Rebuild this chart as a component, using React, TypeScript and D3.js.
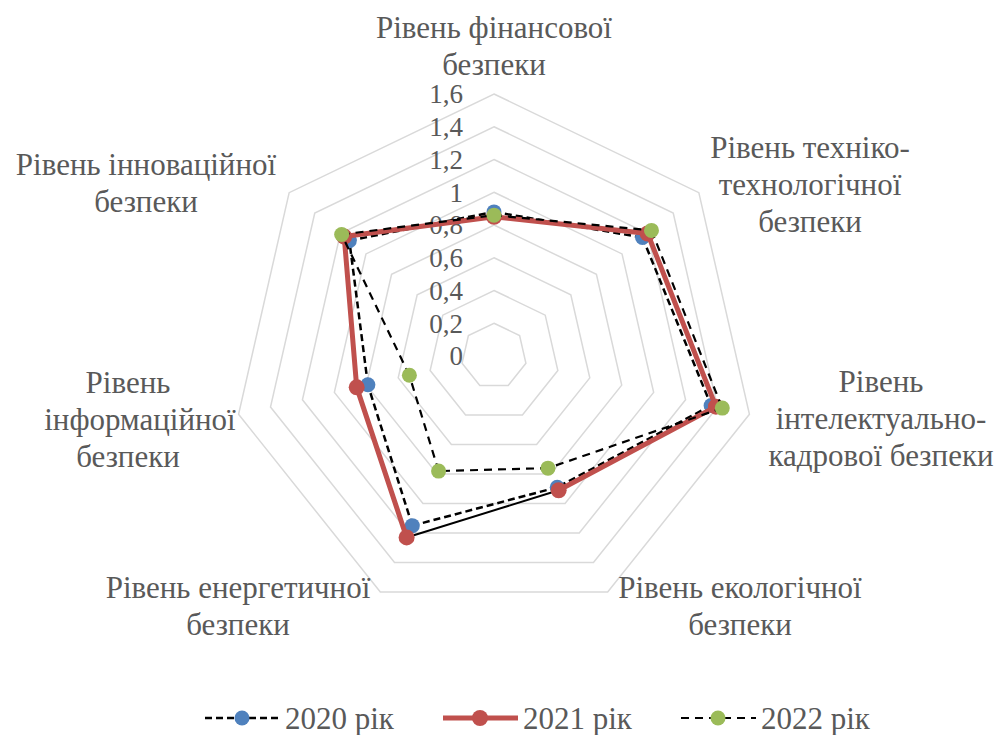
import React from 'react';
import * as d3 from 'd3';

const categories = [
  ['Рівень фінансової', 'безпеки'],
  ['Рівень техніко-', 'технологічної', 'безпеки'],
  ['Рівень', 'інтелектуально-', 'кадрової безпеки'],
  ['Рівень екологічної', 'безпеки'],
  ['Рівень енергетичної', 'безпеки'],
  ['Рівень', 'інформаційної', 'безпеки'],
  ['Рівень інноваційної', 'безпеки'],
];
const ticks = [0, 0.2, 0.4, 0.6, 0.8, 1, 1.2, 1.4, 1.6];
const v2020 = [0.88, 1.16, 1.36, 0.89, 1.15, 0.79, 1.13];
const v2021 = [0.85, 1.2, 1.39, 0.91, 1.23, 0.86, 1.17];
const v2022 = [0.86, 1.23, 1.43, 0.76, 0.78, 0.53, 1.19];
const seriesNames = ['2020 рік', '2021 рік', '2022 рік'];

// label anchors: centre x of each line, first baseline
const labelPos = [
  [[494], 38], [[810], 158], [[881], 392], [[740], 598],
  [[238], 598], [[128, 140, 128], 393], [[146], 175],
];

const W = 998, H = 735;
const cx = 494, cy = 356;
const font = 'Liberation Serif, serif';
const grey = '#595959';

const r = d3.scaleLinear().domain([0, 1.6]).range([0, 262]);
const angle = d3.scaleLinear().domain([0, 7]).range([0, 2 * Math.PI]);
const pt = (i: number, v: number): [number, number] => {
  const a = angle(i);
  return [cx + r(v) * Math.sin(a), cy - r(v) * Math.cos(a)];
};

const styles = [
  { stroke: '#000', width: 2.5, dash: '7,4', fill: '#4f81bd', mr: 7.5 },
  { stroke: '#c0504d', width: 5, dash: null, fill: '#c0504d', mr: 8 },
  { stroke: '#000', width: 2.2, dash: '8,6', fill: '#9bbb59', mr: 7.5 },
];

export default function App() {
  const data = [v2020, v2021, v2022];
  const line = d3.line<[number, number]>();
  const idx = d3.range(7);

  return (
    <svg width={W} height={H} style={{ position: 'absolute', left: 0, top: 0, background: '#fff' }}>
      {ticks.slice(1).map((t) => (
        <path key={t} d={line(idx.map((i) => pt(i, t)))! + 'Z'} fill="none" stroke="#d9d9d9" strokeWidth={1.5} />
      ))}
      {ticks.map((t) => (
        <text key={t} x={463} y={cy - r(t)} dy="0.35em" textAnchor="end" fontFamily={font} fontSize={27} fill={grey}>
          {String(t).replace('.', ',')}
        </text>
      ))}
      {data.map((vals, s) => {
        const st = styles[s];
        const pts = vals.map((v, i) => pt(i, v));
        return (
          <g key={s}>
            {idx.map((i) => {
              const a = pts[i];
              const b = pts[(i + 1) % 7];
              // 2021: the segment into the energy point is thin black in the original
              const special = s === 1 && i === 3;
              return (
                <path
                  key={i}
                  d={line([a, b])!}
                  stroke={special ? '#000' : st.stroke}
                  strokeWidth={special ? 2 : st.width}
                  strokeDasharray={st.dash ?? undefined}
                  strokeLinecap={st.dash ? 'butt' : 'round'}
                  fill="none"
                />
              );
            })}
            {pts.map((p, i) => (
              <circle key={i} cx={p[0]} cy={p[1]} r={st.mr} fill={st.fill} />
            ))}
          </g>
        );
      })}
      {categories.map((lines, i) => {
        const [xs, y0] = labelPos[i] as [number[], number];
        return (
          <text key={i} fontFamily={font} fontSize={31} fill={grey} textAnchor="middle">
            {lines.map((l, j) => (
              <tspan key={j} x={xs[j] ?? xs[0]} y={y0 + j * 37}>
                {l}
              </tspan>
            ))}
          </text>
        );
      })}
      {seriesNames.map((n, s) => {
        const st = styles[s];
        const x0 = 205 + s * 238;
        const y = 718;
        return (
          <g key={n}>
            <line x1={x0} x2={x0 + 75} y1={y} y2={y} stroke={st.stroke} strokeWidth={st.width} strokeDasharray={st.dash ?? undefined} />
            <circle cx={x0 + 37} cy={y} r={st.mr} fill={st.fill} />
            <text x={x0 + 80} y={y} dy="0.35em" fontFamily={font} fontSize={31} fill={grey}>
              {n}
            </text>
          </g>
        );
      })}
    </svg>
  );
}
